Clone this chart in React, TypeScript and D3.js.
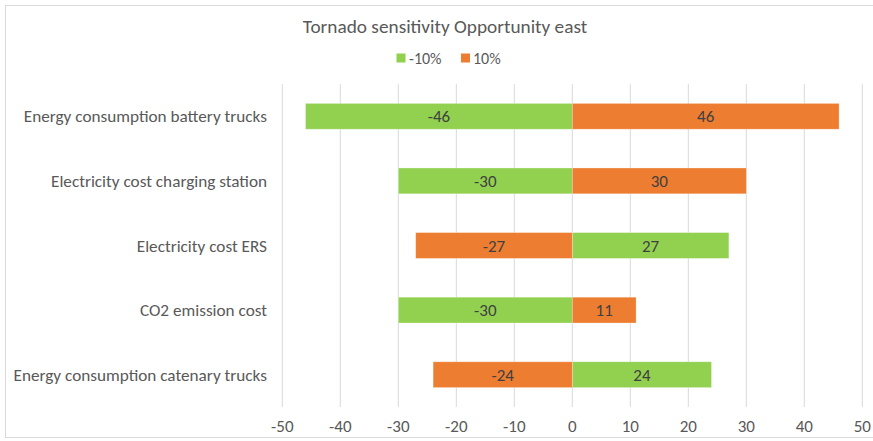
import React from "react";
import * as d3 from "d3";

const categories = [
  "Energy consumption battery trucks",
  "Electricity cost charging station",
  "Electricity cost ERS",
  "CO2 emission cost",
  "Energy consumption catenary trucks",
];
const minus10 = [-46, -30, 27, -30, 24];
const plus10 = [46, 30, -27, 11, -24];
const ticks = [-50, -40, -30, -20, -10, 0, 10, 20, 30, 40, 50];

const W = 873;
const H = 441;
const GREEN = "#92D050";
const ORANGE = "#ED7D31";
const FONT = "Carlito, Calibri, 'Open Sans', sans-serif";

export default function App() {
  const x = d3.scaleLinear().domain([-50, 50]).range([282.3, 862.3]);
  const y = d3.scaleBand<string>().domain(categories).range([84, 407]).paddingInner(0.6).paddingOuter(0.3);

  const series = [
    { name: "-10%", values: minus10, color: GREEN },
    { name: "10%", values: plus10, color: ORANGE },
  ];

  return (
    <svg
      width={W}
      height={H}
      style={{ position: "absolute", left: 0, top: 0, background: "#fff" }}
      fontFamily={FONT}
    >
      <rect x={5.5} y={5.5} width={W + 10} height={H - 9} fill="#fff" stroke="#D9D9D9" />
      <text x={445} y={33} textAnchor="middle" fontSize={19.3} fill="#595959">
        Tornado sensitivity Opportunity east
      </text>
      {/* legend */}
      <g fontSize={16} fill="#595959">
        <rect x={396.5} y={53.5} width={9} height={9} fill={GREEN} />
        <text x={409} y={64}>-10%</text>
        <rect x={461} y={53.5} width={9} height={9} fill={ORANGE} />
        <text x={473} y={64}>10%</text>
      </g>
      {/* gridlines */}
      {ticks.map((t) => (
        <line key={t} x1={x(t)} x2={x(t)} y1={84} y2={407} stroke="#D9D9D9" strokeWidth={1} />
      ))}
      {/* bars */}
      {series.map((s) =>
        s.values.map((v, i) => {
          const c = categories[i];
          const x0 = x(Math.min(0, v));
          const x1 = x(Math.max(0, v));
          const by = y(c)!;
          return (
            <g key={s.name + c}>
              <rect
                x={x0}
                y={by}
                width={x1 - x0}
                height={y.bandwidth()}
                fill={s.color}
                stroke="#fff"
                strokeOpacity={0.4}
                strokeWidth={0.75}
              />
              <text
                x={(x0 + x1) / 2}
                y={by + y.bandwidth() / 2 + 6}
                textAnchor="middle"
                fontSize={17}
                fill="#404040"
              >
                {v}
              </text>
            </g>
          );
        })
      )}
      {/* category labels */}
      {categories.map((c) => (
        <text
          key={c}
          x={267}
          y={y(c)! + y.bandwidth() / 2 + 6}
          textAnchor="end"
          fontSize={17.2}
          fill="#595959"
        >
          {c}
        </text>
      ))}
      {/* axis tick labels */}
      {ticks.map((t) => (
        <text key={t} x={x(t)} y={432} textAnchor="middle" fontSize={17} fill="#595959">
          {t}
        </text>
      ))}
    </svg>
  );
}
